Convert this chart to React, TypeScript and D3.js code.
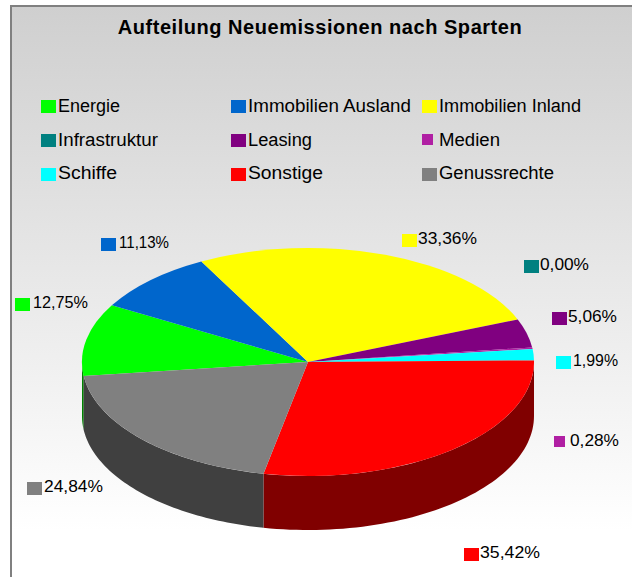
import React from 'react';
import * as d3 from 'd3';

const width = 633;
const height = 577;

// the printed shares add up to about 125%, the slices are drawn from the shares as they are
const categories = ['Energie', 'Immobilien Ausland', 'Immobilien Inland', 'Infrastruktur', 'Leasing', 'Medien', 'Schiffe', 'Sonstige', 'Genussrechte'];
const shares = [12.75, 11.13, 33.36, 0, 5.06, 0.28, 1.99, 35.42, 24.84];
const colors = ['#00ff00', '#0066cc', '#ffff00', '#008080', '#800080', '#b01fa3', '#00ffff', '#ff0000', '#808080'];
const wallColors = ['#008000', '#003366', '#808000', '#004040', '#400040', '#581050', '#008080', '#800000', '#404040'];

// legend slots, in the order of the categories
const legendX = [41, 231, 422];
const legendTextX = [58, 248, 439];
const legendTop = [100, 134, 168];
const legendBaseline = [112, 146, 179];
const legendTextWidth = [62, 163, 142, 100, 64, 61, 59, 75, 115];

// where each data label sits: swatch left, swatch top, text left
const labelSwatchX = [15, 101, 402, 524, 552, 554, 556, 464, 27];
const labelY = [304, 244, 240, 266, 318, 442, 362, 554, 488];
const labelTextX = [33, 119, 418, 540, 568, 570, 573, 480, 44];
const labelTextWidth = [55, 50, 59, 49, 49, 49, 45, 60, 59];

const cx = 308;
const cy = 362;
const rx = 226;
const ry = 114;
const depth = 54;

const startAngle = (263 * Math.PI) / 180;

const pie = d3.pie<number>().sort(null).startAngle(startAngle).endAngle(startAngle + 2 * Math.PI);
const slices = pie(shares);

// unit circle arc, stretched to the ellipse by the group transform
const arc = d3.arc<d3.PieArcDatum<number>>().innerRadius(0).outerRadius(1);

const wall = d3
  .area<number>()
  .x((a) => cx + rx * Math.sin(a))
  .y0((a) => cy - ry * Math.cos(a))
  .y1((a) => cy - ry * Math.cos(a) + depth);

// only the part of the rim between 3 and 9 o'clock faces the viewer
function wallPath(s: d3.PieArcDatum<number>) {
  const paths: string[] = [];
  [0, 2 * Math.PI].forEach((turn) => {
    const a0 = Math.max(s.startAngle - turn, Math.PI / 2);
    const a1 = Math.min(s.endAngle - turn, (3 * Math.PI) / 2);
    if (a1 > a0) {
      const angles = d3.range(0, 61).map((i) => a0 + ((a1 - a0) * i) / 60);
      paths.push(wall(angles) as string);
    }
  });
  return paths.join('');
}

export default function App() {
  return (
    <svg width={width} height={height} style={{ position: 'absolute', left: 0, top: 0 }} fontFamily="'Liberation Sans', Arial, sans-serif">
      <defs>
        <linearGradient id="bg" x1="0" y1="0" x2="0" y2="1">
          <stop offset="0" stopColor="#cfcfcf" />
          <stop offset="0.92" stopColor="#ffffff" />
        </linearGradient>
      </defs>
      <rect width={width} height={height} fill="#ffffff" />
      <rect x={11} y={6} width={width - 12} height={height - 6} fill="url(#bg)" />
      <path d={`M11,${height}V6H${width - 1}`} fill="none" stroke="#808080" strokeWidth={2} />

      <text x={320} y={34} textAnchor="middle" fontSize={20} fontWeight="bold" letterSpacing={0.54} fill="#000">
        Aufteilung Neuemissionen nach Sparten
      </text>

      {categories.map((c, i) => {
        const col = i % 3;
        const row = Math.floor(i / 3);
        const small = c === 'Medien';
        return (
          <g key={c}>
            <rect x={legendX[col]} y={legendTop[row]} width={small ? 11 : 15} height={small ? 11 : 13} fill={colors[i]} />
            <text
              x={legendTextX[col]}
              y={legendBaseline[row]}
              fontSize={18}
              textLength={legendTextWidth[i]}
              lengthAdjust="spacingAndGlyphs"
              fill="#000"
            >
              {c}
            </text>
          </g>
        );
      })}

      {slices.map((s, i) => (
        <path key={categories[i]} d={wallPath(s)} fill={wallColors[i]} />
      ))}
      <g transform={`translate(${cx},${cy}) scale(${rx},${ry})`}>
        {slices.map((s, i) => (
          <path key={categories[i]} d={arc(s) as string} fill={colors[i]} />
        ))}
      </g>

      {categories.map((c, i) => {
        const small = c === 'Medien';
        return (
          <g key={c}>
            <rect x={labelSwatchX[i]} y={labelY[i] - 6} width={small ? 11 : 15} height={small ? 11 : 13} fill={colors[i]} />
            <text
              x={labelTextX[i]}
              y={labelY[i] + 4}
              fontSize={17}
              textLength={labelTextWidth[i]}
              lengthAdjust="spacingAndGlyphs"
              fill="#000"
            >
              {shares[i].toFixed(2).replace('.', ',')}%
            </text>
          </g>
        );
      })}
    </svg>
  );
}
